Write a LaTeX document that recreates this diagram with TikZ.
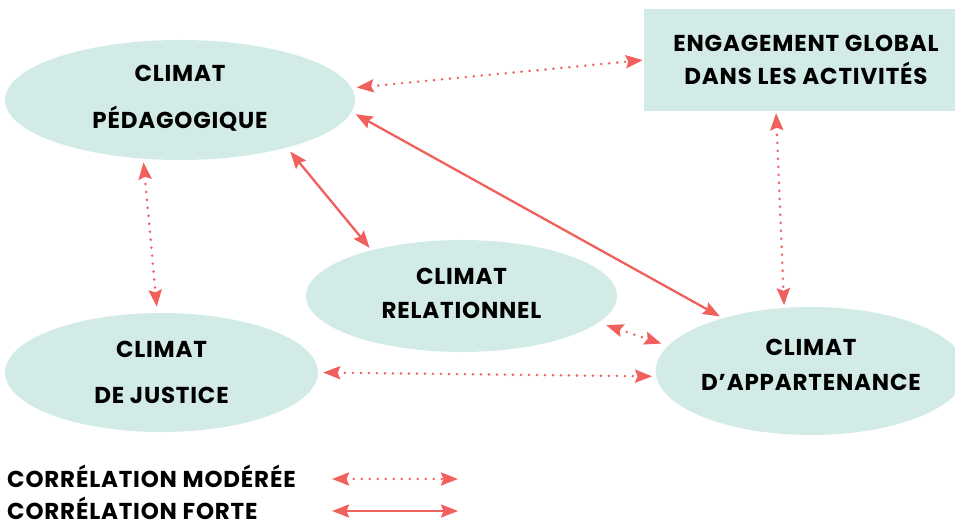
\documentclass[tikz,border=0pt]{standalone}
\usepackage{fontspec}
\setmainfont{Poppins}[LetterSpace=3.5]
\usetikzlibrary{shapes.geometric,arrows.meta}
\definecolor{fillc}{HTML}{D3EBE6}
\definecolor{arr}{HTML}{F0605C}
\begin{document}
\begin{tikzpicture}[x=1pt,y=-1pt,
  blob/.style={ellipse, fill=fillc, inner sep=0pt, align=center,
    font=\fontsize{23}{27}\selectfont\bfseries},
  boxnode/.style={rectangle, fill=fillc, inner sep=0pt, align=center,
    font=\fontsize{23}{27}\selectfont\bfseries},
  legend/.style={inner sep=0pt, font=\fontsize{23}{27}\selectfont\bfseries},
  strong/.style={draw=arr, line width=2.3pt,
    {Stealth[length=17pt,width=13pt,inset=2.5pt]}-{Stealth[length=17pt,width=13pt,inset=2.5pt]}},
  moderate/.style={draw=arr, line width=2.8pt, line cap=round, dash pattern=on 0pt off 8pt,
    {Stealth[length=17pt,width=13pt,inset=2.5pt]}-{Stealth[length=17pt,width=13pt,inset=2.5pt]}}
]
\useasboundingbox (0,0) rectangle (955,521);

\node[blob, minimum width=350pt, minimum height=120pt, text depth=6pt] (ped) at (180,100) {CLIMAT\\[20pt]PÉDAGOGIQUE};
\node[boxnode, minimum width=324pt, minimum height=102pt] (eng) at (806,60) {ENGAGEMENT GLOBAL\\[6pt]DANS LES ACTIVITÉS};
\node[blob, minimum width=311pt, minimum height=112pt, text depth=6pt] (rel) at (461.5,296) {CLIMAT\\[7pt]RELATIONNEL};
\node[blob, minimum width=313pt, minimum height=119pt] (just) at (161.5,372.5) {CLIMAT\\[19pt]DE JUSTICE};
\node[blob, minimum width=304pt, minimum height=128pt, text depth=12pt] (app) at (811,371) {CLIMAT\\[8pt]D\char39 APPARTENANCE};

\draw[moderate, shorten <=5pt, shorten >=1pt] (ped.4.5) -- (eng.west);
\draw[strong, shorten <=4.5pt, shorten >=3.5pt] (ped.-4.6) -- (app.149.3);
\draw[strong, shorten <=5pt, shorten >=3pt] (ped.-24.4) -- (rel.153.4);
\draw[moderate, shorten <=3.5pt, shorten >=6pt] (ped.-122.8) -- (just.94.8);
\draw[moderate, shorten <=2pt, shorten >=2.5pt] ([xshift=-30pt]eng.south) -- (app.113.1);
\draw[moderate, shorten <=8pt, shorten >=7pt] (rel.-11) -- (app.170.8);
\draw[moderate, shorten <=5pt, shorten >=4pt] (just.east) -- (app.182);

\node[legend, anchor=base west] (lm) at (7,487) {CORRÉLATION MODÉRÉE};
\node[legend, anchor=base west] (lf) at (7,519) {CORRÉLATION FORTE};
\coordinate (m1) at (332,479);
\coordinate (m2) at (458,479);
\coordinate (f1) at (332,511);
\coordinate (f2) at (458,511);
\draw[moderate] (m1) -- (m2);
\draw[strong] (f1) -- (f2);
\end{tikzpicture}
\end{document}
